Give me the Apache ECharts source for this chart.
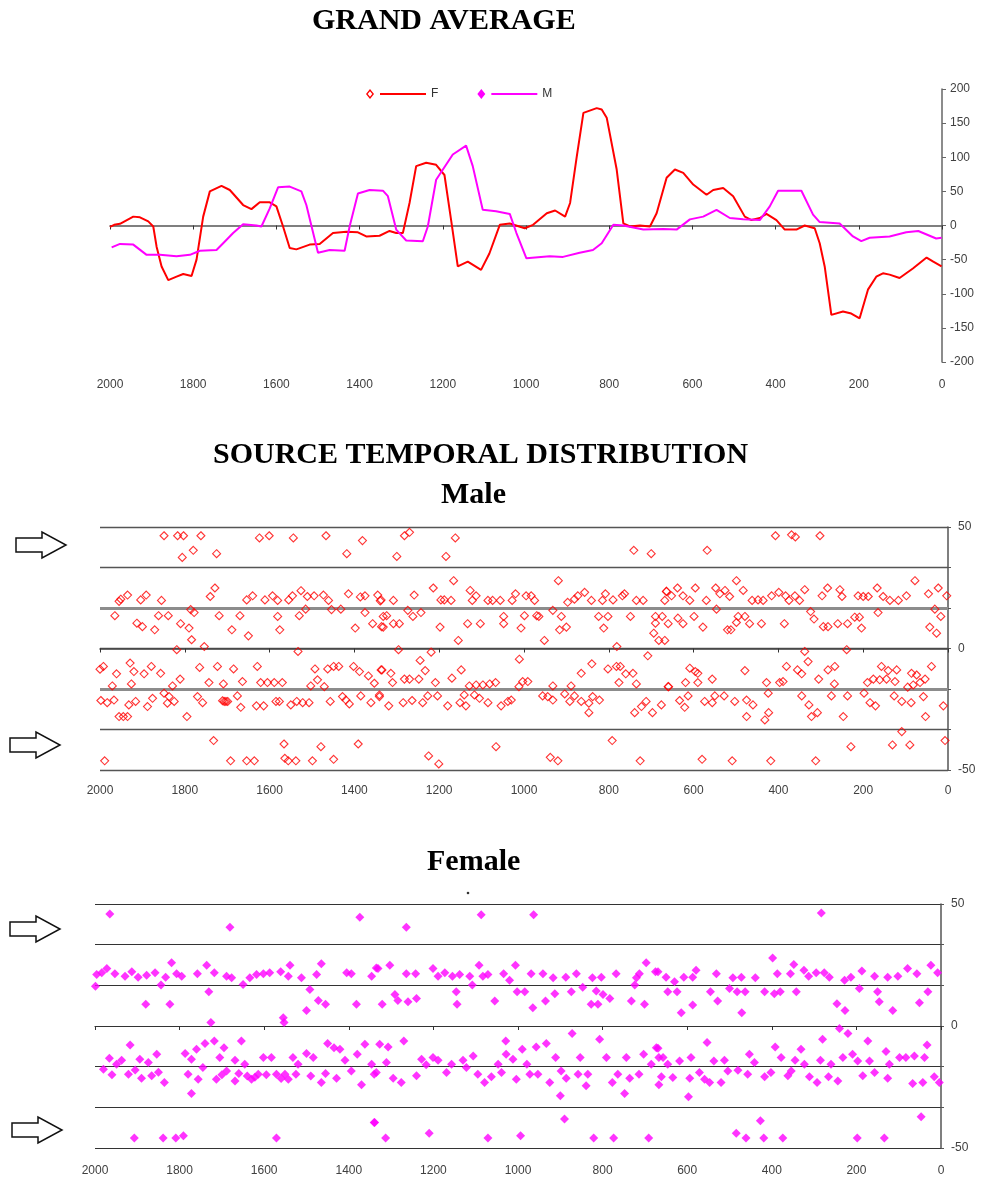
<!DOCTYPE html>
<html>
<head>
<meta charset="utf-8">
<script src="https://cdn.jsdelivr.net/npm/echarts/dist/echarts.min.js"></script>
<style>
html,body{margin:0;padding:0;background:#fff;}
#chart{width:991px;height:1184px;}
</style>
</head>
<body>
<div id="chart"></div>
<script>
// ---------- DATA ----------
const yearTicks = [2000, 1800, 1600, 1400, 1200, 1000, 800, 600, 400, 200, 0];

// Grand average (year, value)
const grandF = [[2000,-2],[1990,1],[1976,2.5],[1944,13],[1928,12],[1908,6],[1896,-1.5],[1888,-31],[1876,-60],[1860,-80],[1840,-75],[1824,-71],[1804,-74],[1792,-50],[1776,13],[1760,50],[1732,58],[1712,52],[1680,30],[1660,24],[1640,34],[1616,34],[1600,28],[1584,-1.5],[1568,-33],[1552,-35],[1520,-28],[1496,-27],[1464,-11],[1432,-9],[1404,-10],[1384,-16],[1352,-15],[1328,-8],[1312,-11],[1296,-11],[1280,33],[1264,87],[1240,92],[1216,89],[1196,74],[1180,8],[1164,-60],[1140,-53],[1108,-65],[1088,-41],[1063,1],[1039,3],[1003,-4],[983,1],[950,18],[930,22],[906,13],[894,33],[878,101],[862,165],[830,172],[818,170],[806,158],[782,82],[766,3],[750,-1.5],[726,0],[702,-1.5],[686,18],[662,70],[642,82],[622,77],[598,60],[566,45],[550,52],[526,55],[502,43],[474,13],[458,8],[438,11],[422,17],[398,8],[378,-6],[350,-6],[330,0],[306,-4],[294,-26],[282,-60],[266,-131],[238,-126],[218,-129],[198,-136],[178,-94],[158,-75],[142,-70],[126,-72],[102,-77],[70,-63],[37,-47],[21,-53],[1,-60]];

const grandM = [[1996,-32],[1976,-27],[1944,-28],[1912,-43],[1880,-43],[1840,-45],[1808,-43],[1784,-37],[1744,-36],[1728,-26],[1704,-11],[1680,2],[1648,0],[1636,-1.5],[1616,25],[1596,56],[1568,57],[1540,50],[1528,30],[1500,-40],[1472,-36],[1436,-37],[1424,-1.5],[1404,47],[1376,52],[1344,51],[1332,43],[1312,-6],[1288,-22],[1248,-23],[1236,-1.5],[1216,67],[1176,104],[1144,117],[1128,87],[1104,23],[1072,21],[1039,17],[1023,-11],[999,-48],[943,-45],[911,-46],[871,-40],[839,-36],[818,-26],[790,1],[766,0],[718,-6],[670,-5],[638,-6],[606,9],[574,13],[542,23],[510,11],[478,9],[438,8],[414,28],[394,51],[338,51],[310,16],[294,5],[246,3],[214,-16],[194,-23],[174,-18],[126,-16],[86,-10],[57,-8],[14,-19],[1,-18]];

// Source temporal distribution - Male (year, value)
const malePoints = [
[1849,46.4],[1817,46.4],[1803,46.4],[1762,46.4],[1624,45.5],[1601,46.4],[1544,45.5],[1467,46.4],[1381,44.4],[1806,37.5],[1780,40.4],[1725,39],[1418,39],
[1951,20.3],[1935,22],[1955,19.4],[1904,20],[1891,22],[1855,19.8],[1965,13.5],[1913,10.4],[1900,9],[1871,7.7],[1862,13.5],[1839,13.5],[1810,10.2],[1790,8.4],[1786,16],[1778,14.8],[1784,3.6],[1819,-0.5],[1754,0.8],[1740,21.4],[1729,24.9],[1719,13.5],[1689,7.7],[1670,13.5],[1650,5.2],[1654,20],[1640,21.7],[1611,20],[1593,21.7],[1581,19.8],[1581,13.2],[1576,7.7],[1555,20],[1546,21.7],[1526,23.8],[1511,21.4],[1530,13.5],[1515,16.2],[1495,21.7],[1473,22],[1461,19.8],[1454,16],[1432,16.2],[1414,22.5],[1398,8.4],[1386,21.2],[1375,21.7],[1375,14.8],[1357,10.2],[1345,22],[1339,19.6],[1336,9],[1533,-1.2],
[2000,-8.5],[1992,-7.4],[1961,-10.4],[1929,-6],[1920,-9.5],[1896,-10.4],[1879,-7.4],[1857,-10.2],[1811,-12.6],[1765,-7.8],[1723,-7.4],[1685,-8.4],[1629,-7.4],[1493,-8.4],[1463,-8.4],[1449,-7.4],[1437,-7.4],[1402,-7.4],[1388,-9.5],[1367,-11.3],[1337,-8.8],[1971,-15.4],[1926,-14.6],[1829,-15.4],[1743,-14],[1709,-14.6],[1664,-13.6],[1621,-14],[1605,-14],[1589,-14],[1570,-14],[1503,-15.4],[1487,-12.9],[1471,-15.7],[1353,-14.3],[1998,-21.4],[1983,-22.3],[1967,-21.2],[1932,-23.2],[1916,-21.8],[1888,-23.9],[1876,-20.5],[1849,-18.4],[1837,-19.8],[1841,-22.5],[1825,-21.8],[1770,-19.8],[1758,-22.3],[1707,-21.8],[1703,-21.8],[1711,-21.5],[1699,-21.8],[1676,-19.5],[1668,-24.2],[1631,-23.6],[1614,-23.6],[1585,-21.8],[1577,-21.8],[1550,-23.2],[1536,-21.8],[1522,-22.3],[1507,-22.3],[1457,-21.8],[1428,-19.8],[1420,-21.2],[1412,-22.8],[1385,-19.5],[1361,-22.3],[1341,-19.8],[1955,-28],[1945,-28],[1935,-28],[1795,-28],
[1732,-37.9],[1566,-39.3],[1479,-40.4],[1391,-39.3],[1989,-46.2],[1692,-46.2],[1654,-46.2],[1636,-46.2],[1564,-45.2],[1556,-46.2],[1538,-46.2],[1499,-46.2],[1449,-45.6],
[1282,46.4],[1270,47.8],[1162,45.5],[1300,37.9],[1184,37.9],[741,40.4],[700,39],
[1337,20],[1308,19.8],[1259,22],[1214,24.9],[1196,20],[1188,20],[1172,19.8],[1166,27.9],[1127,23.9],[1113,21.7],[1122,19.8],[1085,19.8],[1074,19.8],[1056,19.8],[1028,19.8],[1020,22.5],[995,21.7],[983,21.7],[975,19.8],[919,27.9],[897,19],[881,20.3],[873,21.7],[857,23.1],[841,19.8],[815,19.8],[808,22.5],[790,20],[768,21.7],[763,22.5],[735,19.8],[719,19.8],[668,19.8],[664,23.5],
[1332,13.2],[1274,15.7],[1262,13.2],[1243,14.8],[1324,13.5],[1308,10.2],[1294,10.2],[1332,8.8],[1198,8.8],[1133,10.2],[1103,10.2],[1048,13.2],[1048,10.2],[1007,8.4],[999,13.5],[970,13.5],[965,13.2],[932,15.7],[912,13.2],[916,7.7],[900,8.8],[824,13.2],[802,13.2],[812,8.4],[749,13.2],[690,13.2],[674,13.2],[690,10.4],[694,6.3],[682,3.3],[1155,3.3],[952,3.3],[1296,-0.5],[1219,-1.5],[781,0.8],
[1335,-8.8],[1314,-10.2],[1245,-4.9],[1233,-9.1],[1148,-8.8],[1011,-4.4],[865,-10.2],[840,-6.3],[802,-8.4],[782,-7.4],[773,-7.4],[760,-10.4],[743,-10.2],[708,-3],[1310,-14],[1282,-12.6],[1270,-12.6],[1248,-12.6],[1209,-14],[1170,-12.2],[1129,-15.4],[1113,-15],[1097,-15],[1081,-14.6],[1067,-14],[1012,-15.7],[1003,-13.6],[991,-13.6],[932,-15.4],[889,-15.4],[776,-14],[735,-14.6],[660,-15.7],
[1341,-19.1],[1319,-23.6],[1285,-22.3],[1264,-21.4],[1239,-22.3],[1227,-19.5],[1204,-19.5],[1180,-23.6],[1151,-22.3],[1137,-23.6],[1141,-19.1],[1117,-19.1],[1105,-20.5],[1085,-22.3],[1054,-23.6],[1038,-21.8],[1030,-21.2],[956,-19.5],[944,-19.8],[932,-21.2],[904,-18.7],[892,-21.8],[881,-19.5],[865,-21.8],[847,-22.5],[847,-26.4],[838,-19.8],[822,-21.2],[739,-26.4],[723,-23.9],[712,-21.8],[697,-26.4],[676,-23.2],
[1066,-40.4],[792,-37.9],[1225,-44.2],[1201,-47.5],[938,-44.8],[920,-46.2],[726,-46.2],
[407,46.4],[369,46.8],[360,45.9],[302,46.4],[568,40.4],
[664,23.5],[652,21.7],[638,24.9],[625,21.7],[609,19.8],[596,24.9],[570,19.8],[548,24.9],[538,22.5],[526,23.9],[515,21.4],[499,27.9],[483,23.9],[462,19.8],[448,20],[436,19.8],[416,21.7],[399,23.1],[383,21.7],[375,19.8],[361,21.7],[350,19.8],[338,24.2],[297,21.7],[284,24.9],[255,24.2],[250,21.4],[212,21.7],[200,21.4],[188,21.4],[167,24.9],[153,21.4],[137,19.8],[117,19.8],[98,21.7],[78,27.9],[46,22.5],[23,24.9],[3,21.7],[31,16.2],[17,13.2],[43,8.8],[27,6.3],
[165,14.8],[209,12.9],[220,12.9],[204,8.4],[237,10.2],[260,10.2],[283,9],[294,9],[316,12.1],[324,15.2],[386,10.2],[440,10.2],[468,10.2],[479,13.2],[495,13.2],[499,10.7],[512,7.7],[520,7.7],[546,16.2],[578,8.8],[599,13.2],[625,10.2],[637,12.5],[660,10.2],[668,3.3],[338,-1.2],[239,-0.5],
[609,-8.1],[590,-10.2],[596,-9.5],[556,-12.6],[479,-9.1],[381,-7.4],[355,-8.8],[345,-10.4],[330,-5.4],[305,-12.6],[283,-8.8],[267,-7.4],[157,-7.4],[141,-9.1],[121,-8.8],[86,-10.2],[74,-10.9],[39,-7.4],[54,-12.6],[659,-15.7],[619,-14],[590,-14],[428,-14],[397,-14],[389,-13.6],[268,-14.6],[190,-14],[176,-12.6],[161,-12.9],[145,-12.6],[125,-13.6],[95,-15.9],[82,-15],[66,-14],
[633,-21.4],[621,-24.2],[613,-19.5],[574,-21.8],[556,-22.3],[550,-19.5],[528,-19.5],[503,-21.8],[475,-21.2],[460,-23.2],[424,-18.4],[345,-19.5],[328,-23.2],[322,-28],[308,-26.4],[275,-19.5],[247,-28],[237,-19.5],[198,-18.4],[184,-22.3],[171,-23.6],[127,-19.5],[109,-21.8],[87,-22.3],[58,-19.8],[53,-28],[11,-23.6],[475,-28],[432,-29.4],[423,-26.4],
[109,-34.2],[229,-40.4],[131,-39.7],[90,-39.7],[7,-37.9],[580,-45.6],[509,-46.2],[418,-46.2],[312,-46.2]
];

// Source temporal distribution - Female (year, value)
const femalePoints = [
[1965,45.9],[1374,44.6],[1681,40.5],
[1999,16.3],[1996,21.1],[1984,21.8],[1972,23.6],[1953,21.4],[1929,20.4],[1913,22.2],[1898,20],[1878,20.8],[1858,21.8],[1844,16.8],[1833,20],[1819,25.9],[1807,21.4],[1795,20.4],[1758,21.4],[1736,24.9],[1718,21.8],[1731,14],[1689,20.4],[1677,19.8],[1650,17],[1634,19.8],[1618,21.1],[1602,21.4],[1587,21.8],[1561,22.2],[1543,20.4],[1539,24.9],[1512,19.8],[1492,15],[1476,21.1],[1465,25.5],[1405,21.8],[1394,21.4],[1346,20.4],[1335,23.8],[1880,8.9],[1823,8.9],[1472,10.5],[1455,8.9],[1382,8.9],[1500,6.4],[1555,3.4],[1553,1.4],[1726,1.4],
[1917,-7.8],[1966,-13.2],[1980,-17.7],[1949,-15.7],[1937,-14],[1921,-19.8],[1894,-13.6],[1874,-15],[1890,-21.4],[1866,-20.4],[1854,-11.6],[1836,-23.2],[1787,-11.3],[1772,-13.6],[1760,-9.5],[1780,-19.8],[1772,-27.7],[1756,-21.8],[1740,-7.2],[1718,-6.1],[1705,-12.9],[1695,-8.9],[1689,-18.4],[1669,-14],[1654,-6.1],[1646,-15.7],[1630,-21.8],[1614,-19.8],[1602,-12.9],[1583,-12.9],[1571,-19.8],[1551,-19.8],[1543,-21.8],[1532,-12.9],[1520,-15.7],[1500,-11.3],[1484,-12.9],[1465,-23.2],[1450,-7.2],[1435,-8.9],[1421,-9.5],[1409,-14],[1429,-21.4],[1394,-18.4],[1380,-11.6],[1362,-7.5],[1346,-15.7],[1340,-19.8],[1370,-24.1],[1669,-22.5],[1713,-21.8],
[1745,-17],[1700,-20],[1660,-19.5],[1640,-20.5],[1622,-21],[1595,-20],[1560,-21.5],[1525,-19.8],[1490,-20.5],[1455,-19.5],[1905,-18],[1960,-20],[1850,-19],
[1340,-39.5],[1907,-45.9],[1839,-45.9],[1809,-45.9],[1791,-45],[1571,-45.9],
[1087,45.6],[963,45.6],[1264,40.5],
[1331,23.6],[1303,24.9],[1264,21.4],[1242,21.4],[1201,23.6],[1189,20.4],[1173,21.8],[1155,20.4],[1138,21.1],[1114,20.4],[1092,24.9],[1083,20.4],[1071,21.1],[1034,21.4],[1020,18.7],[1006,24.9],[969,21.4],[941,21.4],[917,19.8],[887,20],[862,21.4],[824,19.8],[803,20],[768,21.4],[720,19.8],[713,21.4],[697,25.9],[675,22.2],[1108,16.8],[1146,14],[1144,8.9],[1291,12.9],[1284,10.5],[1260,9.9],[1240,11.3],[1321,8.9],[1055,10.2],[1002,14],[984,14],[965,7.5],[935,10.2],[913,13.2],[874,14],[847,15.9],[815,14.3],[799,12.9],[783,11.3],[827,8.9],[811,8.9],[732,10.2],[701,8.9],[724,16.8],
[1327,-7.5],[1307,-8.6],[1270,-6.1],[1311,-15],[1335,-19.1],[1295,-21.4],[1276,-23.2],[1240,-20.4],[1228,-13.6],[1217,-15.9],[1201,-12.9],[1189,-14],[1169,-19.1],[1157,-15.7],[1130,-14],[1122,-17],[1106,-12.3],[1095,-19.8],[1079,-23.2],[1063,-20.8],[1047,-15.7],[1039,-19.1],[1029,-6.1],[1028,-11.6],[1012,-13.6],[1004,-21.8],[990,-9.5],[979,-15.7],[972,-19.8],[957,-8.6],[953,-19.8],[933,-7.2],[925,-23.2],[911,-12.9],[898,-18.4],[886,-21.4],[900,-28.6],[872,-3.1],[858,-19.8],[853,-12.9],[839,-24.5],[835,-19.8],[807,-5.4],[791,-12.9],[777,-23.2],[764,-19.8],[748,-27.7],[744,-12.9],[736,-21.4],[714,-19.8],[703,-11.6],[685,-15.7],[673,-8.9],[667,-12.9],[667,-24.1],
[1339,-39.5],[890,-38.1],[1313,-45.9],[1210,-44],[1071,-45.9],[994,-45],[821,-45.9],[774,-45.9],[691,-45.9],
[283,46.3],
[669,22.2],[650,20],[630,18.1],[608,20],[579,22.8],[587,20],[531,21.4],[492,19.8],[472,20],[439,19.8],[398,27.9],[387,21.4],[356,21.4],[348,25.2],[324,22.8],[313,20.4],[295,21.8],[276,21.8],[264,20],[228,18.7],[213,20],[187,22.5],[157,20.4],[126,20],[102,20.4],[79,23.6],[57,21.4],[24,24.9],[8,21.8],
[646,14],[624,14],[545,14],[528,10.2],[500,15.4],[482,14],[463,14],[417,14],[394,13.2],[380,14],[342,14],[193,15.4],[150,14],[146,9.9],[114,6.4],[51,9.5],[31,14],[614,5.4],[587,8.6],[471,5.4],[246,9.1],[227,6.4],[240,-1],[220,-3.1],
[669,-9.1],[657,-12.9],[646,-15.7],[661,-20.8],[634,-21.1],[618,-14.3],[597,-29],[594,-21.4],[591,-12.9],[571,-19.1],[559,-21.8],[553,-6.8],[547,-23.2],[537,-14.3],[520,-23.2],[512,-14],[504,-18.4],[480,-18.1],[457,-19.8],[453,-11.6],[441,-15],[417,-20.8],[402,-19.1],[392,-8.6],[378,-12.9],[362,-20.4],[354,-18.4],[345,-14],[331,-9.5],[323,-15.7],[311,-20.8],[293,-23.2],[285,-14],[280,-5.4],[266,-20.8],[260,-15.7],[244,-22.5],[232,-12.9],[209,-11.6],[197,-14.3],[185,-20.4],[173,-6.1],[169,-14.3],[157,-19.1],[130,-10.5],[126,-21.4],[122,-15.7],[98,-12.9],[83,-12.9],[67,-23.6],[63,-12.3],[43,-23.2],[39,-12.9],[33,-7.8],[16,-20.8],[4,-23.2],
[427,-38.8],[484,-44],[461,-45.9],[419,-45.9],[374,-45.9],[198,-45.9],[134,-45.9],[47,-37.2]
];

// ---------- LAYOUT / STYLE ----------
const FONT = 'Liberation Sans, Arial, sans-serif';
const SERIF = 'Liberation Serif, Times New Roman, serif';
const STEP = 100 / 6;
const plainNumber = function (v) { return String(v); };

function yearAxis(grid, labels, margin) {
  return {
    gridIndex: grid, type: 'value', min: 0, max: 2000, interval: 200, inverse: true,
    position: 'bottom',
    axisLine: { show: false, onZero: false },
    axisTick: { show: false },
    splitLine: { show: false },
    axisLabel: { show: labels, margin: margin, fontFamily: FONT, fontSize: 12, color: '#404040', formatter: plainNumber }
  };
}
function zeroAxis(grid, color, width) {
  return {
    gridIndex: grid, type: 'value', min: 0, max: 2000, interval: 200, inverse: true,
    position: 'bottom',
    axisLine: { show: true, onZero: true, lineStyle: { color: color, width: width } },
    axisTick: { show: true, length: 4, lineStyle: { color: '#333', width: 1 } },
    splitLine: { show: false },
    axisLabel: { show: false }
  };
}
function bandAxis(grid, lineColor, lineWidth) {
  return {
    gridIndex: grid, type: 'value', position: 'right', min: -50, max: 50, interval: STEP,
    axisLine: { show: true, lineStyle: { color: '#555', width: 1.5 } },
    axisTick: { show: true, length: 3, lineStyle: { color: '#555' } },
    splitLine: { show: true, lineStyle: { color: lineColor, width: lineWidth } },
    axisLabel: {
      margin: 10, fontFamily: FONT, fontSize: 12, color: '#404040',
      formatter: function (v) {
        const r = Math.round(v);
        return (Math.abs(v - r) < 0.01 && (r === 50 || r === 0 || r === -50)) ? String(r) : '';
      }
    }
  };
}
function arrow(x0, yc) {
  return {
    type: 'polygon', silent: true,
    shape: { points: [[x0, yc - 7], [x0 + 26, yc - 7], [x0 + 26, yc - 13], [x0 + 50, yc], [x0 + 26, yc + 13], [x0 + 26, yc + 7], [x0, yc + 7]] },
    style: { fill: '#fff', stroke: '#111', lineWidth: 1.5 }
  };
}
function titleAt(text, left, top) {
  return { text: text, left: left, top: top, padding: 0,
    textStyle: { fontFamily: SERIF, fontWeight: 'bold', fontSize: 30, color: '#000' } };
}

const chart = echarts.init(document.getElementById('chart'), null, { renderer: 'canvas' });

const option = {
  backgroundColor: '#fff',
  animation: false,
  title: [
    titleAt('GRAND AVERAGE', 312, 6),
    titleAt('SOURCE TEMPORAL DISTRIBUTION', 213, 440),
    titleAt('Male', 441, 480),
    titleAt('Female', 427, 847)
  ],
  legend: {
    left: 361, top: 83, itemWidth: 60, itemHeight: 10, itemGap: 39,
    symbolKeepAspect: false,
    textStyle: { fontFamily: FONT, fontSize: 12, color: '#333' },
    data: [
      { name: 'F', icon: 'path://M0,5L4,0.5L8,5L4,9.5Z M1.7,5L4,7.4L6.3,5L4,2.6Z M14,4L60,4L60,6L14,6Z', itemStyle: { color: '#ff0000', borderWidth: 0 } },
      { name: 'M', icon: 'path://M0,5L4,0.5L8,5L4,9.5Z M14,4L60,4L60,6L14,6Z', itemStyle: { color: '#ff00ff', borderWidth: 0 } }
    ]
  },
  grid: [
    { left: 110, right: 49, top: 89, bottom: 822 },
    { left: 100, right: 43, top: 527, bottom: 414 },
    { left: 95, right: 50, top: 904, bottom: 36 }
  ],
  xAxis: [
    yearAxis(0, true, 17),
    zeroAxis(0, '#555', 1.5),
    yearAxis(1, true, 15),
    zeroAxis(1, '#444', 1.5),
    yearAxis(2, true, 17),
    zeroAxis(2, '#333', 1.2)
  ],
  yAxis: [
    {
      gridIndex: 0, type: 'value', position: 'right', min: -200, max: 200, interval: 50,
      axisLine: { show: true, lineStyle: { color: '#666', width: 1.5 } },
      axisTick: { show: true, length: 4, lineStyle: { color: '#666' } },
      splitLine: { show: false },
      axisLabel: { margin: 8, fontFamily: FONT, fontSize: 12, color: '#404040', formatter: plainNumber }
    },
    bandAxis(1, '#555', 1.3),
    bandAxis(2, '#333', 1.2)
  ],
  series: [
    {
      name: 'F', type: 'line', xAxisIndex: 0, yAxisIndex: 0, data: grandF,
      symbol: 'emptyDiamond', showSymbol: false, color: '#ff0000',
      lineStyle: { color: '#ff0000', width: 2 }
    },
    {
      name: 'M', type: 'line', xAxisIndex: 0, yAxisIndex: 0, data: grandM,
      symbol: 'diamond', showSymbol: false, color: '#ff00ff',
      lineStyle: { color: '#ff00ff', width: 2 }
    },
    {
      name: 'Male', type: 'scatter', xAxisIndex: 2, yAxisIndex: 1, data: malePoints,
      symbol: 'diamond', symbolSize: 8,
      itemStyle: { color: 'rgba(255,255,255,0)', borderColor: '#ff0000', borderWidth: 1.1 },
      markLine: {
        silent: true, symbol: 'none', z: 1, label: { show: false },
        lineStyle: { color: '#8c8c8c', width: 3, type: 'solid' },
        data: [{ yAxis: STEP }, { yAxis: -STEP }]
      }
    },
    {
      name: 'Female', type: 'scatter', xAxisIndex: 4, yAxisIndex: 2, data: femalePoints,
      symbol: 'diamond', symbolSize: 9,
      itemStyle: { color: '#ff00ff' }
    }
  ],
  graphic: [
    arrow(16, 545), arrow(10, 745), arrow(10, 929), arrow(12, 1130),
    { type: 'circle', silent: true, shape: { cx: 468, cy: 893, r: 1.3 }, style: { fill: '#333' } }
  ]
};

chart.setOption(option);
</script>
</body>
</html>
